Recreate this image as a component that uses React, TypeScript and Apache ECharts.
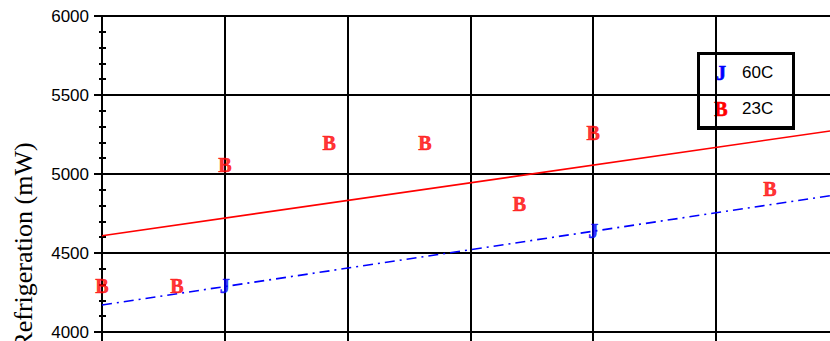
import React, { useEffect, useRef } from "react";
import * as echarts from "echarts";

// Measured refrigeration at 23C (red "B") and 60C (blue "J")
const posB = [0, 0.61, 1.0, 1.85, 2.63, 3.4, 4.0, 5.44];
const valB = [4290, 4290, 5057, 5196, 5199, 4813, 5260, 4902];
const posJ = [1.0, 4.0];
const valJ = [4291, 4640];

// Straight-line fits, given at the two ends of the x range
const fitX = [0, 6];
const fitB = [4609, 5280];
const fitJ = [4171, 4871];

const yTicks = [4000, 4500, 5000, 5500, 6000];
const legendNames = ["60C", "23C"];

const RED = "#ff0000";
const BLUE = "#0000ff";
const GLYPH_FONT = "Liberation Serif";
const GLYPH_SIZE = 20;

function pairs(xs: number[], ys: number[]) {
  return xs.map((x, i) => [x, ys[i]]);
}

export default function App() {
  const ref = useRef<HTMLDivElement>(null);

  useEffect(() => {
    if (!ref.current) return;
    const chart = echarts.init(ref.current, undefined, { renderer: "svg" });

    const glyphLabel = (ch: string, color: string) => ({
      show: true,
      position: "inside" as const,
      formatter: ch,
      color,
      textBorderWidth: 0.6,
      textBorderColor: color,
      fontFamily: GLYPH_FONT,
      fontWeight: "bold" as const,
      fontSize: GLYPH_SIZE,
    });

    chart.setOption({
      animation: false,
      backgroundColor: "#ffffff",
      grid: { left: 102, top: 16, width: 736.8, height: 316, containLabel: false },
      xAxis: {
        type: "value",
        min: 0,
        max: 6,
        interval: 1,
        axisLine: { show: true, lineStyle: { color: "#000", width: 2 } },
        axisTick: { show: true, length: 12, lineStyle: { color: "#000", width: 2 } },
        axisLabel: { show: false },
        splitLine: { show: true, lineStyle: { color: "#000", width: 2 } },
      },
      yAxis: [
        {
          type: "value",
          min: yTicks[0],
          max: yTicks[yTicks.length - 1],
          interval: 500,
          axisLine: { show: true, lineStyle: { color: "#000", width: 2 } },
          axisTick: { show: true, length: 8, lineStyle: { color: "#000", width: 2 } },
          minorTick: { show: true, splitNumber: 5, length: 3, lineStyle: { color: "#000", width: 2 } },
          axisLabel: {
            show: true,
            margin: 13,
            color: "#000",
            fontFamily: "Liberation Sans",
            fontSize: 17,
            formatter: (v: number) => String(v),
          },
          splitLine: { show: true, lineStyle: { color: "#000", width: 2 } },
        },
        {
          type: "value",
          position: "left",
          min: yTicks[0],
          max: yTicks[yTicks.length - 1],
          interval: 500,
          axisLine: { show: false },
          axisTick: { show: false, inside: true },
          minorTick: { show: true, splitNumber: 5, length: 4, lineStyle: { color: "#000", width: 2 } },
          axisLabel: { show: false },
          splitLine: { show: false },
        },
      ],
      series: [
        {
          type: "line",
          data: pairs(fitX, fitB),
          symbol: "none",
          lineStyle: { color: RED, width: 1.6 },
          z: 3,
        },
        {
          type: "line",
          data: pairs(fitX, fitJ),
          symbol: "none",
          lineStyle: { color: BLUE, width: 1.6, type: [10, 5, 2, 5] },
          z: 3,
        },
        {
          type: "scatter",
          data: pairs(posB, valB),
          symbolSize: 0.1,
          itemStyle: { color: RED },
          label: glyphLabel("B", RED),
          z: 4,
        },
        {
          type: "scatter",
          data: pairs(posJ, valJ),
          symbolSize: 0.1,
          itemStyle: { color: BLUE },
          label: glyphLabel("J", BLUE),
          z: 4,
        },
      ],
      graphic: [
        {
          type: "text",
          x: 23,
          y: 246,
          rotation: Math.PI / 2,
          style: {
            text: "Refrigeration (mW)",
            fill: "#000",
            fontFamily: "Liberation Serif",
            fontSize: 26,
            align: "center",
            verticalAlign: "middle",
          },
        },
        {
          type: "group",
          x: 697,
          y: 52,
          z: 10,
          children: [
            { type: "rect", shape: { x: 0, y: 0, width: 98, height: 78 }, style: { fill: "#000" } },
            { type: "rect", shape: { x: 3, y: 3, width: 92, height: 71 }, style: { fill: "#fff" } },
            {
              type: "text",
              x: 24,
              y: 21,
              style: { text: "J", fill: BLUE, stroke: BLUE, lineWidth: 0.6, fontFamily: GLYPH_FONT, fontWeight: "bold", fontSize: GLYPH_SIZE, align: "center", verticalAlign: "middle" },
            },
            {
              type: "text",
              x: 45,
              y: 20,
              style: { text: legendNames[0], fill: "#000", fontFamily: "Liberation Sans", fontSize: 17, align: "left", verticalAlign: "middle" },
            },
            {
              type: "text",
              x: 24,
              y: 57,
              style: { text: "B", fill: RED, stroke: RED, lineWidth: 0.6, fontFamily: GLYPH_FONT, fontWeight: "bold", fontSize: GLYPH_SIZE, align: "center", verticalAlign: "middle" },
            },
            {
              type: "text",
              x: 45,
              y: 56,
              style: { text: legendNames[1], fill: "#000", fontFamily: "Liberation Sans", fontSize: 17, align: "left", verticalAlign: "middle" },
            },
          ],
        },
      ],
    });

    return () => chart.dispose();
  }, []);

  return (
    <div style={{ position: "fixed", left: 0, top: 0, width: 830, height: 341, overflow: "hidden", background: "#fff" }}>
      <div ref={ref} style={{ width: 850, height: 360 }} />
    </div>
  );
}
